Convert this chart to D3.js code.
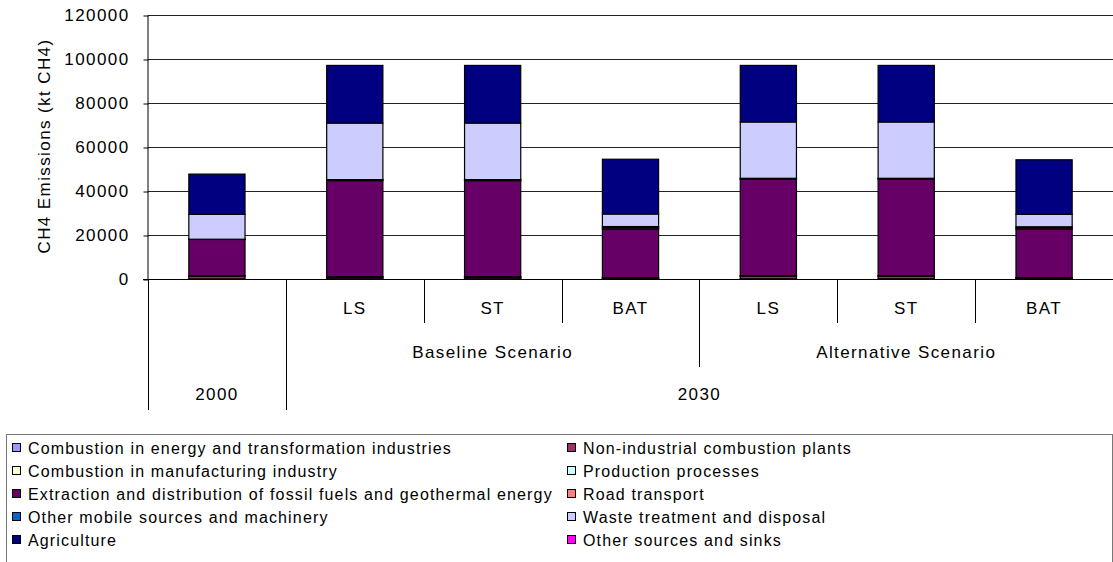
<!DOCTYPE html>
<html>
<head>
<meta charset="utf-8">
<script src="https://cdn.jsdelivr.net/npm/d3@7"></script>
<style>
  html, body { margin: 0; padding: 0; background: #fff; }
  svg { display: block; font-family: "Liberation Sans", Arial, sans-serif; }
</style>
</head>
<body>
<svg id="chart" width="1113" height="562"></svg>
<script>
// ---- Data ----
const categories = ["2000", "B-LS", "B-ST", "B-BAT", "A-LS", "A-ST", "A-BAT"];
const subLabels = ["", "LS", "ST", "BAT", "LS", "ST", "BAT"];
const scenarioLabels = ["", "Baseline Scenario", "Baseline Scenario", "Baseline Scenario",
  "Alternative Scenario", "Alternative Scenario", "Alternative Scenario"];
const yearLabels = ["2000", "2030", "2030", "2030", "2030", "2030", "2030"];

const seriesNames = [
  "Combustion in energy and transformation industries",
  "Non-industrial combustion plants",
  "Combustion in manufacturing industry",
  "Production processes",
  "Extraction and distribution of fossil fuels and geothermal energy",
  "Road transport",
  "Other mobile sources and machinery",
  "Waste treatment and disposal",
  "Agriculture",
  "Other sources and sinks"
];
const seriesColors = ["#9999FF", "#993366", "#FFFFCC", "#CCFFFF", "#660066",
  "#FF8080", "#0066CC", "#CCCCFF", "#000080", "#FF00FF"];

const energyInd   = [60, 100, 100, 80, 100, 100, 80];
const nonIndComb  = [1300, 700, 700, 400, 1200, 1200, 400];
const manufInd    = [40, 80, 80, 60, 80, 80, 60];
const production  = [80, 150, 150, 100, 150, 150, 100];
const extraction  = [16500, 43700, 43700, 22100, 43800, 43800, 22000];
const roadTrans   = [80, 300, 300, 600, 300, 300, 600];
const otherMobile = [20, 150, 150, 500, 150, 150, 500];
const waste       = [11300, 25700, 25700, 5700, 25600, 25600, 5650];
const agriculture = [18300, 26200, 26200, 24900, 25700, 25700, 24800];
const otherSrc    = [0, 0, 0, 0, 0, 0, 0];

const seriesValues = [energyInd, nonIndComb, manufInd, production, extraction,
  roadTrans, otherMobile, waste, agriculture, otherSrc];

const yTicks = [0, 20000, 40000, 60000, 80000, 100000, 120000];
const yTitle = "CH4 Emissions (kt CH4)";

// ---- Layout ----
const svg = d3.select("#chart");
const pLeft = 148, pRight = 1113, pTop = 15, pBottom = 279;
const n = categories.length;
const FS = 17, LS = "1.4px";

const y = d3.scaleLinear().domain([0, 120000]).range([pBottom, pTop]);
const pIn = 1 - 56.2 / ((pRight - pLeft) / n);
const x = d3.scaleBand().domain(categories).range([pLeft, pRight])
  .paddingInner(pIn).paddingOuter(pIn / 2);
const step = x.step();

// gridlines
svg.append("g").selectAll("line")
  .data(yTicks.filter(d => d > 0))
  .join("line")
  .attr("x1", pLeft).attr("x2", pRight)
  .attr("y1", d => Math.round(y(d)) + 0.5).attr("y2", d => Math.round(y(d)) + 0.5)
  .attr("stroke", "#222").attr("stroke-width", 1);

// y axis
const yAxis = svg.append("g")
  .attr("transform", `translate(${pLeft + 0.5},0.5)`)
  .call(d3.axisLeft(y).tickValues(yTicks).tickSize(5).tickPadding(14).tickFormat(d3.format("d")));
yAxis.select(".domain").attr("stroke", "#000").attr("d", `M-0.5,${pTop}V${pBottom}`);
yAxis.selectAll(".tick line").attr("stroke", "#000");
yAxis.selectAll(".tick text")
  .attr("font-size", FS).attr("fill", "#000")
  .attr("letter-spacing", LS)
  .attr("font-family", "Liberation Sans, Arial, sans-serif");

// y title
svg.append("text")
  .attr("transform", `translate(44,${(pTop + pBottom) / 2 - 1}) rotate(-90)`)
  .attr("text-anchor", "middle").attr("dominant-baseline", "central")
  .attr("font-size", FS).attr("letter-spacing", LS)
  .text(yTitle);

// stacked bars
const rows = categories.map((c, i) => {
  const o = { cat: c };
  seriesNames.forEach((s, k) => { o[s] = seriesValues[k][i]; });
  return o;
});
const stack = d3.stack().keys(seriesNames)(rows);
const gBars = svg.append("g");
stack.forEach((layer, k) => {
  gBars.append("g").attr("fill", seriesColors[k])
    .selectAll("rect")
    .data(layer.filter(d => d[1] - d[0] > 0))
    .join("rect")
    .attr("x", d => x(d.data.cat))
    .attr("width", x.bandwidth())
    .attr("y", d => y(d[1]))
    .attr("height", d => y(d[0]) - y(d[1]))
    .attr("stroke", "#000").attr("stroke-width", 1.2);
});

// x axis line
svg.append("line")
  .attr("x1", pLeft - 5).attr("x2", pRight)
  .attr("y1", pBottom + 0.5).attr("y2", pBottom + 0.5)
  .attr("stroke", "#000");

// category separators
const sepLen = [];
for (let i = 0; i < n; i++) {
  let yEnd;
  if (i === 0 || yearLabels[i] !== yearLabels[i - 1]) yEnd = 410;
  else if (scenarioLabels[i] !== scenarioLabels[i - 1]) yEnd = 367;
  else yEnd = 323;
  sepLen.push({ i, yEnd });
}
svg.append("g").selectAll("line").data(sepLen).join("line")
  .attr("x1", d => Math.round(pLeft + d.i * step) + 0.5)
  .attr("x2", d => Math.round(pLeft + d.i * step) + 0.5)
  .attr("y1", pBottom).attr("y2", d => d.yEnd)
  .attr("stroke", "#000");

// level-1 labels
svg.append("g").selectAll("text").data(categories).join("text")
  .attr("x", d => x(d) + x.bandwidth() / 2)
  .attr("y", 314)
  .attr("text-anchor", "middle")
  .attr("font-size", FS).attr("letter-spacing", LS)
  .text((d, i) => subLabels[i]);

function runs(labels) {
  const out = [];
  let s = 0;
  for (let i = 1; i <= labels.length; i++) {
    if (i === labels.length || labels[i] !== labels[s]) {
      if (labels[s]) out.push({ label: labels[s], from: s, to: i });
      s = i;
    }
  }
  return out;
}
svg.append("g").selectAll("text").data(runs(scenarioLabels)).join("text")
  .attr("x", d => pLeft + (d.from + d.to) / 2 * step)
  .attr("y", 358).attr("text-anchor", "middle")
  .attr("font-size", FS).attr("letter-spacing", LS)
  .text(d => d.label);
svg.append("g").selectAll("text").data(runs(yearLabels)).join("text")
  .attr("x", d => pLeft + (d.from + d.to) / 2 * step)
  .attr("y", 400).attr("text-anchor", "middle")
  .attr("font-size", FS).attr("letter-spacing", LS)
  .text(d => d.label);

// legend
svg.append("rect")
  .attr("x", 6.5).attr("y", 434.5).attr("width", 1106).attr("height", 160)
  .attr("fill", "#fff").attr("stroke", "#777");
const legendItems = seriesNames.map((s, k) => ({ name: s, color: seriesColors[k], k }));
const lg = svg.append("g").selectAll("g").data(legendItems).join("g")
  .attr("transform", d => {
    const col = d.k % 2, row = Math.floor(d.k / 2);
    return `translate(${col === 0 ? 12 : 567},${448 + row * 23})`;
  });
lg.append("rect").attr("x", 0.5).attr("y", -4.5).attr("width", 8).attr("height", 8)
  .attr("fill", d => d.color).attr("stroke", "#000");
lg.append("text").attr("x", 16).attr("y", 5.5)
  .attr("font-size", 16).attr("letter-spacing", "1.15px")
  .text(d => d.name);
</script>
</body>
</html>
